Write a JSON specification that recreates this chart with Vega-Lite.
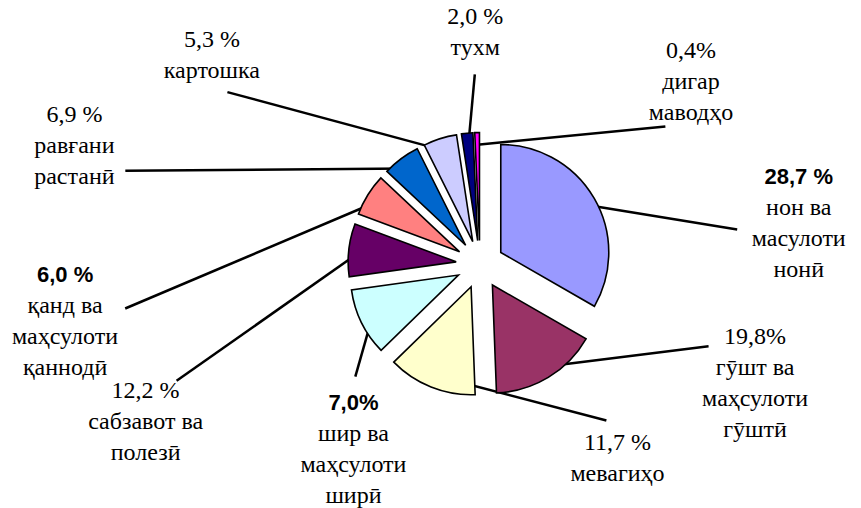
{
  "$schema": "https://vega.github.io/schema/vega-lite/v6.json",
  "width": 861,
  "height": 508,
  "padding": 0,
  "autosize": {"type": "fit", "contains": "padding"},
  "background": "white",
  "config": {"view": {"stroke": null}},
  "data": {
    "values": [
      {"name": "нон ва\nмасулоти\nнонӣ", "pct": "28,7 %", "share": 33.3},
      {"name": "гӯшт ва\nмаҳсулоти\nгӯштӣ", "pct": "19,8%", "share": 16.1},
      {"name": "мевагиҳо", "pct": "11,7 %", "share": 13.3},
      {"name": "шир ва\nмаҳсулоти\nширӣ", "pct": "7,0%", "share": 10.1},
      {"name": "сабзавот ва\nполезӣ", "pct": "12,2 %", "share": 7.9},
      {"name": "қанд ва\nмаҳсулоти\nқаннодӣ", "pct": "6,0 %", "share": 6.3},
      {"name": "равғани\nрастанӣ", "pct": "6,9 %", "share": 5.6},
      {"name": "картошка", "pct": "5,3 %", "share": 5.0},
      {"name": "тухм", "pct": "2,0 %", "share": 1.7},
      {"name": "дигар\nмаводҳо", "pct": "0,4%", "share": 0.7}
    ]
  },
  "transform": [
    {"window": [{"op": "sum", "field": "share", "as": "cum"}, {"op": "row_number", "as": "k"}], "frame": [null, 0]},
    {"joinaggregate": [{"op": "sum", "field": "share", "as": "total"}]},
    {"calculate": "2*PI*(datum.cum - datum.share)/datum.total", "as": "a0"},
    {"calculate": "2*PI*datum.cum/datum.total", "as": "a1"},
    {"calculate": "(datum.a0 + datum.a1)/2", "as": "mid"},
    {"calculate": "24*sin(datum.mid)", "as": "ex"},
    {"calculate": "-24*cos(datum.mid)", "as": "ey"},
    {"calculate": "datum.ex + 96*sin(datum.mid)", "as": "sx"},
    {"calculate": "datum.ey - 96*cos(datum.mid)", "as": "sy"},
    {"calculate": "(85 + 35*(datum.k - 1))*PI/180", "as": "la"},
    {"calculate": "length(split(datum.name, '\\n')) + 1", "as": "n"},
    {"calculate": "1 + 0.05*(4 - datum.n)", "as": "f"},
    {"calculate": "-50 + datum.f*370*(sin(datum.la) < 0 ? -1 : 1)*pow(abs(sin(datum.la)), 0.9)", "as": "lx"},
    {"calculate": "-13 - datum.f*200*(cos(datum.la) < 0 ? -pow(abs(cos(datum.la)), 0.6) : pow(abs(cos(datum.la)), 0.8))", "as": "ly"},
    {"calculate": "datum.lx - 62*sin(datum.la)*abs(sin(datum.la))", "as": "tx"},
    {"calculate": "datum.ly + (datum.n*16 + 10)*cos(datum.la)", "as": "ty"},
    {"calculate": "datum.ly - (datum.n - 1)*15.5", "as": "py"},
    {"calculate": "datum.py + 31", "as": "ny"}
  ],
  "layer": [
    {
      "mark": {"type": "rule", "stroke": "black", "strokeWidth": 2.5},
      "encoding": {
        "x": {"field": "sx", "type": "quantitative", "scale": {"domain": [-480, 381], "nice": false, "zero": false}, "axis": null},
        "y": {"field": "sy", "type": "quantitative", "scale": {"domain": [-265, 243], "nice": false, "zero": false, "reverse": true}, "axis": null},
        "x2": {"field": "tx"},
        "y2": {"field": "ty"}
      }
    },
    {
      "mark": {"type": "arc", "outerRadius": 108, "stroke": "black", "strokeWidth": 1.6},
      "encoding": {
        "theta": {"field": "a0", "type": "quantitative", "scale": null},
        "theta2": {"field": "a1"},
        "x": {"field": "ex", "type": "quantitative", "scale": {"domain": [-480, 381], "nice": false, "zero": false}, "axis": null},
        "y": {"field": "ey", "type": "quantitative", "scale": {"domain": [-265, 243], "nice": false, "zero": false, "reverse": true}, "axis": null},
        "color": {
          "field": "name",
          "type": "nominal",
          "legend": null,
          "scale": {
            "domain": ["нон ва\nмасулоти\nнонӣ", "гӯшт ва\nмаҳсулоти\nгӯштӣ", "мевагиҳо", "шир ва\nмаҳсулоти\nширӣ", "сабзавот ва\nполезӣ", "қанд ва\nмаҳсулоти\nқаннодӣ", "равғани\nрастанӣ", "картошка", "тухм", "дигар\nмаводҳо"],
            "range": ["#9999FF", "#993366", "#FFFFCC", "#CCFFFF", "#660066", "#FF8080", "#0066CC", "#CCCCFF", "#000080", "#FF00FF"]
          }
        }
      }
    },
    {
      "mark": {"type": "text", "font": "Liberation Serif, Times New Roman, serif", "fontSize": 24, "lineBreak": "\n", "lineHeight": 31, "baseline": "middle", "align": "center", "color": "black"},
      "encoding": {
        "x": {"field": "lx", "type": "quantitative", "scale": {"domain": [-480, 381], "nice": false, "zero": false}, "axis": null},
        "y": {"field": "ny", "type": "quantitative", "scale": {"domain": [-265, 243], "nice": false, "zero": false, "reverse": true}, "axis": null},
        "text": {"field": "name", "type": "nominal"}
      }
    },
    {
      "transform": [{"filter": "indexof(['28,7 %', '7,0%', '6,0 %'], datum.pct) < 0"}],
      "mark": {"type": "text", "font": "Liberation Serif, Times New Roman, serif", "fontSize": 24, "baseline": "middle", "align": "center", "color": "black"},
      "encoding": {
        "x": {"field": "lx", "type": "quantitative", "scale": {"domain": [-480, 381], "nice": false, "zero": false}, "axis": null},
        "y": {"field": "py", "type": "quantitative", "scale": {"domain": [-265, 243], "nice": false, "zero": false, "reverse": true}, "axis": null},
        "text": {"field": "pct", "type": "nominal"}
      }
    },
    {
      "transform": [{"filter": "indexof(['28,7 %', '7,0%', '6,0 %'], datum.pct) >= 0"}],
      "mark": {"type": "text", "font": "Liberation Sans", "fontWeight": "bold", "fontSize": 22, "baseline": "middle", "align": "center", "color": "black"},
      "encoding": {
        "x": {"field": "lx", "type": "quantitative", "scale": {"domain": [-480, 381], "nice": false, "zero": false}, "axis": null},
        "y": {"field": "py", "type": "quantitative", "scale": {"domain": [-265, 243], "nice": false, "zero": false, "reverse": true}, "axis": null},
        "text": {"field": "pct", "type": "nominal"}
      }
    }
  ]
}
